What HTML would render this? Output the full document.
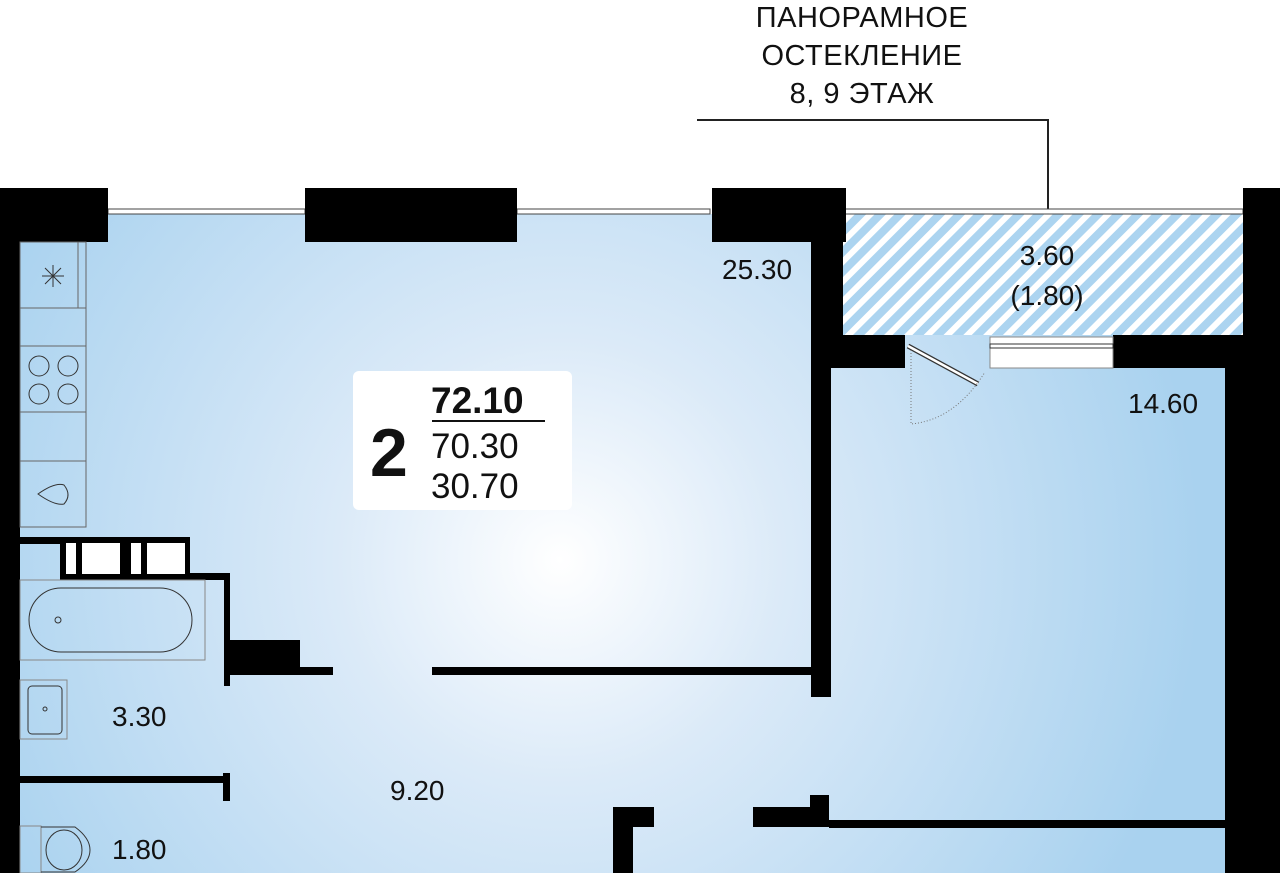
<!DOCTYPE html>
<html><head><meta charset="utf-8"><style>
html,body{margin:0;padding:0;background:#fff;width:1280px;height:873px;overflow:hidden}
svg{display:block}
text{font-family:"Liberation Sans",sans-serif;fill:#111}
</style></head><body>
<svg width="1280" height="873" viewBox="0 0 1280 873" xmlns="http://www.w3.org/2000/svg">
<defs>
<radialGradient id="bg" cx="560" cy="560" r="640" gradientUnits="userSpaceOnUse">
<stop offset="0" stop-color="#ffffff"/><stop offset="0.35" stop-color="#dbeaf8"/><stop offset="1" stop-color="#a9d2ef"/>
</radialGradient>
<pattern id="hatch" width="14" height="14" patternUnits="userSpaceOnUse" patternTransform="rotate(45)">
<rect width="14" height="14" fill="#ffffff"/><rect width="8" height="14" fill="#acd4f0"/>
</pattern>
</defs>
<rect x="18" y="214" width="1210" height="659" fill="url(#bg)"/>
<rect x="840" y="214" width="405" height="121" fill="url(#hatch)"/>
<text x="862" y="27" font-size="29" text-anchor="middle" letter-spacing="0.5">ПАНОРАМНОЕ</text>
<text x="862" y="65" font-size="29" text-anchor="middle" letter-spacing="0.5">ОСТЕКЛЕНИЕ</text>
<text x="862" y="103" font-size="29" text-anchor="middle" letter-spacing="0.5">8, 9 ЭТАЖ</text>
<polyline points="697,120 1048,120 1048,210" fill="none" stroke="#222" stroke-width="2"/>
<g fill="#fff" stroke="#444" stroke-width="1">
<rect x="108" y="209" width="197" height="5"/>
<rect x="517" y="209" width="193" height="5"/>
<rect x="843" y="209" width="400" height="5"/>
</g>
<g fill="#000">
<rect x="0" y="188" width="20" height="685"/>
<rect x="0" y="188" width="108" height="54"/>
<rect x="305" y="188" width="212" height="54"/>
<rect x="712" y="188" width="134" height="54"/>
<rect x="811" y="188" width="32" height="150"/>
<rect x="811" y="335" width="94" height="33"/>
<rect x="811" y="335" width="20" height="362"/>
<rect x="1113" y="335" width="167" height="33"/>
<rect x="1243" y="188" width="37" height="150"/>
<rect x="1225" y="335" width="55" height="538"/>
<rect x="432" y="667" width="380" height="8"/>
<rect x="230" y="640" width="70" height="35"/>
<rect x="230" y="667" width="103" height="8"/>
<rect x="224" y="575" width="6" height="111"/>
<rect x="20" y="537" width="170" height="7"/>
<rect x="60" y="537" width="130" height="43"/>
<rect x="186" y="573" width="44" height="7"/>
<rect x="20" y="776" width="206" height="7"/>
<rect x="223" y="773" width="7" height="28"/>
<rect x="753" y="807" width="76" height="20"/>
<rect x="810" y="795" width="19" height="20"/>
<rect x="829" y="820" width="396" height="8"/>
<rect x="613" y="807" width="41" height="20"/>
<rect x="613" y="807" width="20" height="66"/>
</g>
<g fill="#fff">
<rect x="66" y="543" width="10" height="31"/><rect x="82" y="543" width="38" height="31"/>
<rect x="131" y="543" width="10" height="31"/><rect x="147" y="543" width="38" height="31"/>
</g>
<rect x="990" y="337" width="123" height="31" fill="#fff" stroke="#888" stroke-width="1"/>
<rect x="990" y="344" width="123" height="4" fill="#fff" stroke="#333" stroke-width="1"/>
<line x1="908" y1="346" x2="978" y2="384" stroke="#333" stroke-width="5"/>
<line x1="908" y1="346" x2="978" y2="384" stroke="#fff" stroke-width="2.5"/>
<path d="M911,350 L911,424 Q955,420 985,372" fill="none" stroke="#777" stroke-width="1" stroke-dasharray="1,2"/>
<g fill="none" stroke="#666" stroke-width="1">
<rect x="20" y="242" width="66" height="285"/>
<line x1="78" y1="242" x2="78" y2="308"/>
<line x1="20" y1="308" x2="86" y2="308"/>
<line x1="20" y1="346" x2="86" y2="346"/>
<line x1="20" y1="412" x2="86" y2="412"/>
<line x1="20" y1="461" x2="86" y2="461"/>
</g>
<g fill="none" stroke="#333" stroke-width="1">
<circle cx="39" cy="366" r="10"/><circle cx="68" cy="366" r="10"/>
<circle cx="39" cy="394" r="10"/><circle cx="68" cy="394" r="10"/>
<path d="M38,494 Q55,482 64,485 Q72,495 64,504 Q55,506 38,494 Z"/>
<path d="M42,276 L64,276 M53,265 L53,287 M45,268 L61,284 M61,268 L45,284"/>
<rect x="20" y="580" width="185" height="80" stroke="#888"/>
<rect x="29" y="588" width="163" height="64" rx="32"/>
<circle cx="58" cy="620" r="3"/>
<rect x="20" y="680" width="47" height="59" stroke="#888"/>
<rect x="28" y="686" width="34" height="48" rx="4"/>
<circle cx="45" cy="709" r="2"/>
<rect x="20" y="826" width="21" height="47" stroke="#888"/>
<path d="M41,827 L75,827 Q90,838 90,850 Q90,862 75,872 L41,872"/>
<ellipse cx="64" cy="850" rx="18" ry="20"/>
</g>
<rect x="353" y="371" width="219" height="139" rx="6" fill="#fff"/>
<text x="370" y="476" font-size="68" font-weight="bold">2</text>
<text x="431" y="413" font-size="37" font-weight="bold">72.10</text>
<rect x="432" y="420" width="113" height="2" fill="#111"/>
<text x="431" y="458" font-size="35">70.30</text>
<text x="431" y="498" font-size="35">30.70</text>
<g font-size="28">
<text x="722" y="279">25.30</text>
<text x="1047" y="265" text-anchor="middle">3.60</text>
<text x="1047" y="305" text-anchor="middle">(1.80)</text>
<text x="1128" y="413">14.60</text>
<text x="112" y="726">3.30</text>
<text x="390" y="800">9.20</text>
<text x="112" y="859">1.80</text>
</g>
</svg>
</body></html>
